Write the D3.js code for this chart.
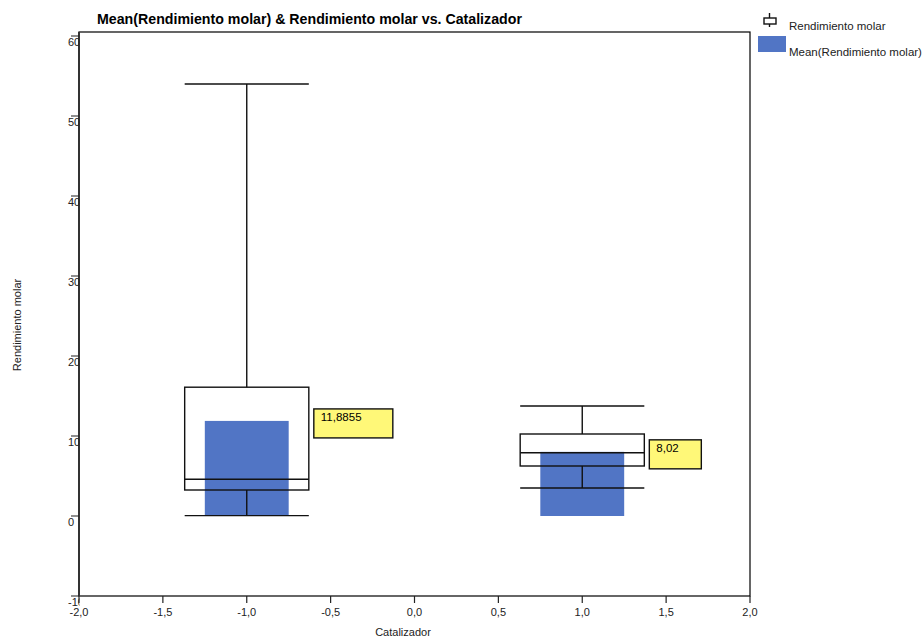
<!doctype html>
<html>
<head>
    <meta charset="UTF-8">
    <title>Rendimiento molar vs. Catalizador</title>
    <style type="text/css">
        body { margin: 0; background: #fff; }
        #chart { font-family: "Liberation Sans", Arial, sans-serif; }
        .frame { fill: none; stroke: #000; stroke-width: 1.2; }
        .box { fill: none; stroke: #111; stroke-width: 1.4; }
        .tick line { stroke: #222; stroke-width: 1.2; }
    </style>
</head>
<body>
    <svg id="chart" width="924" height="637"></svg>
    <script src="https://cdn.jsdelivr.net/npm/d3@7"></script>
    <script type="text/javascript">
        // datos
        var catalizador = [-1, 1];
        var whiskerLow = [0.05, 3.5];
        var q1 = [3.25, 6.25];
        var median = [4.6, 7.9];
        var q3 = [16.1, 10.25];
        var whiskerHigh = [54, 13.75];
        var means = [11.8855, 8.02];
        var xTicks = [-2, -1.5, -1, -0.5, 0, 0.5, 1, 1.5, 2];
        var yTicks = [-10, 0, 10, 20, 30, 40, 50, 60];

        var svg = d3.select("#chart");

        var x = d3.scaleLinear().domain([-2, 2]).range([79, 750]);
        var y = d3.scaleLinear().domain([-10, 60]).range([596, 36]);
        var fmt = function(v) { return String(v).replace(".", ","); };
        var fmt1 = function(v) { return d3.format(".1f")(v).replace(".", ",").replace("\u2212", "-"); };

        var boxW = 0.74, barW = 0.5;

        // clips para las etiquetas cortadas
        var defs = svg.append("defs");
        defs.append("clipPath").attr("id", "clipY")
            .append("rect").attr("x", 0).attr("y", 0).attr("width", 79.5).attr("height", 637);
        defs.append("clipPath").attr("id", "clipX")
            .append("rect").attr("x", 0).attr("y", 0).attr("width", 764).attr("height", 637);

        // barras de la media
        svg.selectAll(".bar")
            .data(means)
            .enter()
            .append("rect")
            .attr("class", "bar")
            .attr("x", function(d, i) { return x(catalizador[i] - barW / 2); })
            .attr("width", function(d, i) { return x(catalizador[i] + barW / 2) - x(catalizador[i] - barW / 2); })
            .attr("y", function(d) { return y(d); })
            .attr("height", function(d) { return y(0) - y(d); })
            .style("fill", "#5175c5");

        // cajas
        var g = svg.selectAll(".bp")
            .data(catalizador)
            .enter()
            .append("g")
            .attr("class", "bp");

        g.append("line") // bigote superior
            .attr("x1", function(d) { return x(d); })
            .attr("x2", function(d) { return x(d); })
            .attr("y1", function(d, i) { return y(whiskerHigh[i]); })
            .attr("y2", function(d, i) { return y(q3[i]); })
            .attr("class", "box");
        g.append("line") // bigote inferior
            .attr("x1", function(d) { return x(d); })
            .attr("x2", function(d) { return x(d); })
            .attr("y1", function(d, i) { return y(q1[i]); })
            .attr("y2", function(d, i) { return y(whiskerLow[i]); })
            .attr("class", "box");
        [whiskerHigh, whiskerLow, median].forEach(function(arr) {
            g.append("line")
                .attr("x1", function(d) { return x(d - boxW / 2); })
                .attr("x2", function(d) { return x(d + boxW / 2); })
                .attr("y1", function(d, i) { return y(arr[i]); })
                .attr("y2", function(d, i) { return y(arr[i]); })
                .attr("class", "box");
        });
        g.append("rect")
            .attr("x", function(d) { return x(d - boxW / 2); })
            .attr("width", function(d) { return x(d + boxW / 2) - x(d - boxW / 2); })
            .attr("y", function(d, i) { return y(q3[i]); })
            .attr("height", function(d, i) { return y(q1[i]) - y(q3[i]); })
            .attr("class", "box");

        // etiquetas amarillas con la media
        var lab = svg.selectAll(".lab")
            .data(means)
            .enter()
            .append("g")
            .attr("class", "lab")
            .attr("transform", function(d, i) {
                return "translate(" + (x(catalizador[i] + boxW / 2) + 5) + "," + (y(d) - 12) + ")";
            });
        lab.append("rect").attr("class", "lbox");
        lab.append("text")
            .attr("x", 7)
            .attr("y", 12)
            .style("font-size", "11.5px")
            .text(function(d) { return fmt(d); });
        lab.each(function() {
            var t = d3.select(this).select("text").node().getComputedTextLength();
            d3.select(this).select("rect")
                .attr("width", Math.round(t * 1.45 + 20))
                .attr("height", 29)
                .style("fill", "#fff878")
                .style("stroke", "#111")
                .style("stroke-width", 1.4);
        });

        // marco
        svg.append("rect")
            .attr("class", "frame")
            .attr("x", x(-2)).attr("y", y(60.5))
            .attr("width", x(2) - x(-2)).attr("height", y(-10) - y(60.5));
        svg.append("line")
            .attr("x1", x(-2)).attr("x2", x(-2)).attr("y1", y(60.5)).attr("y2", y(-10))
            .style("stroke", "#333").style("stroke-width", 2);

        // eje Y
        var yAx = svg.append("g").attr("clip-path", "url(#clipY)");
        var yt = yAx.selectAll(".tick").data(yTicks).enter().append("g").attr("class", "tick")
            .attr("transform", function(d) { return "translate(0," + y(d) + ")"; });
        yt.append("line").attr("x1", x(-2) - 8).attr("x2", x(-2));
        yt.append("text")
            .attr("x", 68).attr("y", 10)
            .style("font-size", "11px").style("fill", "#222")
            .text(function(d) { return d; });

        // eje X
        var xAx = svg.append("g").attr("clip-path", "url(#clipX)");
        var xt = xAx.selectAll(".tick").data(xTicks).enter().append("g").attr("class", "tick")
            .attr("transform", function(d) { return "translate(" + x(d) + ",0)"; });
        xt.append("line").attr("y1", y(-10)).attr("y2", y(-10) + 7);
        xt.append("text")
            .attr("y", 616)
            .attr("text-anchor", "middle")
            .style("font-size", "11px").style("fill", "#222")
            .text(function(d) { return fmt1(d); });

        // titulos
        svg.append("text")
            .attr("x", 97).attr("y", 24)
            .style("font-size", "14.2px").style("font-weight", "bold")
            .text("Mean(Rendimiento molar) & Rendimiento molar vs. Catalizador");
        svg.append("text")
            .attr("x", 403).attr("y", 636)
            .attr("text-anchor", "middle")
            .style("font-size", "11px").style("fill", "#222")
            .text("Catalizador");
        svg.append("text")
            .attr("transform", "translate(21,325) rotate(-90)")
            .attr("text-anchor", "middle")
            .style("font-size", "11px").style("fill", "#222")
            .text("Rendimiento molar");

        // leyenda
        var leg = svg.append("g");
        leg.append("line").attr("x1", 769.5).attr("x2", 769.5).attr("y1", 13).attr("y2", 18).attr("class", "box");
        leg.append("rect").attr("x", 764).attr("y", 18).attr("width", 12).attr("height", 6).attr("class", "box");
        leg.append("line").attr("x1", 769.5).attr("x2", 769.5).attr("y1", 24).attr("y2", 27).attr("class", "box");
        leg.append("text").attr("x", 789).attr("y", 30)
            .style("font-size", "11.5px").style("fill", "#222")
            .text("Rendimiento molar");
        leg.append("rect").attr("x", 758).attr("y", 36).attr("width", 28).attr("height", 16)
            .style("fill", "#5175c5");
        leg.append("text").attr("x", 789).attr("y", 56)
            .style("font-size", "11.5px").style("fill", "#222")
            .text("Mean(Rendimiento molar)");
    </script>
</body>
</html>
